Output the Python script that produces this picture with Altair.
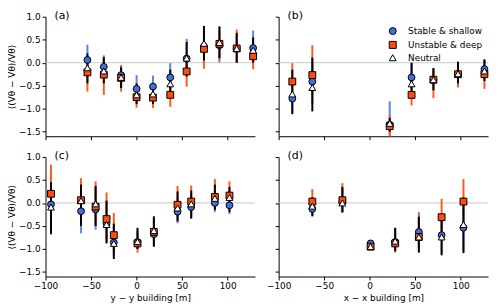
import altair as alt
import pandas as pd

conds = ["Stable & shallow", "Unstable & deep", "Neutral"]
panel_labels = ["(a)", "(b)", "(c)", "(d)"]

# ---- panel (a) ----
a_x = [-54, -36, -17, 0, 18, 37, 55, 74, 91, 110, 128]
a_st_val = [0.06, -0.09, -0.27, -0.57, -0.52, -0.32, 0.09, 0.35, 0.38, 0.31, 0.32]
a_st_lo = [-0.30, -0.35, -0.50, -0.85, -0.80, -0.60, -0.25, 0.00, 0.00, 0.00, 0.05]
a_st_hi = [0.39, 0.16, -0.05, -0.27, -0.28, -0.01, 0.52, 0.70, 0.78, 0.62, 0.70]
a_un_val = [-0.21, -0.26, -0.33, -0.75, -0.76, -0.70, -0.19, 0.30, 0.41, 0.31, 0.14]
a_un_lo = [-0.63, -0.70, -0.63, -0.98, -0.99, -0.96, -0.52, -0.13, 0.05, 0.00, -0.14]
a_un_hi = [0.10, 0.10, -0.06, -0.50, -0.50, -0.45, 0.10, 0.60, 0.70, 0.72, 0.45]
a_ne_val = [-0.11, -0.18, -0.32, -0.70, -0.68, -0.46, 0.10, 0.42, 0.44, 0.31, 0.27]
a_ne_lo = [-0.45, -0.45, -0.55, -0.90, -0.90, -0.75, -0.30, 0.05, 0.10, 0.00, 0.00]
a_ne_hi = [0.20, 0.12, -0.10, -0.45, -0.45, -0.15, 0.45, 0.80, 0.79, 0.65, 0.55]

# ---- panel (b) ----
b_x = [-85, -63, 22, 46, 70, 97, 126]
b_st_val = [-0.78, -0.41, -1.35, -0.32, -0.37, -0.25, -0.14]
b_st_lo = [-1.10, -0.90, -1.60, -0.60, -0.60, -0.45, -0.35]
b_st_hi = [-0.40, 0.00, -0.84, -0.01, -0.12, 0.02, 0.07]
b_un_val = [-0.41, -0.27, -1.38, -0.70, -0.37, -0.25, -0.25]
b_un_lo = [-0.80, -0.70, -1.60, -0.93, -0.77, -0.54, -0.57]
b_un_hi = [-0.01, 0.38, -1.15, -0.35, -0.12, 0.00, 0.05]
b_ne_val = [-0.68, -0.54, -1.32, -0.46, -0.37, -0.24, -0.18]
b_ne_lo = [-1.12, -1.06, -1.50, -0.65, -0.60, -0.45, -0.40]
b_ne_hi = [-0.15, 0.11, -1.20, 0.00, -0.12, 0.02, 0.07]

# ---- panel (c) ----
c_x = [-94, -61, -45, -33, -25, 1, 19, 45, 60, 86, 102]
c_st_val = [-0.03, -0.18, -0.14, -0.45, -0.86, -0.85, -0.68, -0.19, -0.09, 0.00, -0.05]
c_st_lo = [-0.68, -0.66, -0.58, -0.85, -1.15, -1.00, -0.95, -0.44, -0.32, -0.20, -0.24]
c_st_hi = [0.40, 0.30, 0.30, 0.00, -0.50, -0.60, -0.35, 0.10, 0.20, 0.30, 0.25]
c_un_val = [0.20, 0.06, -0.08, -0.35, -0.70, -0.88, -0.63, -0.04, 0.03, 0.13, 0.16]
c_un_lo = [-0.30, -0.40, -0.50, -0.80, -1.10, -1.08, -0.92, -0.35, -0.30, -0.10, -0.10]
c_un_hi = [0.83, 0.54, 0.47, 0.23, -0.22, -0.65, -0.32, 0.37, 0.38, 0.52, 0.47]
c_ne_val = [-0.09, 0.05, -0.02, -0.47, -0.88, -0.84, -0.60, -0.11, -0.02, 0.10, 0.12]
c_ne_lo = [-0.68, -0.50, -0.50, -0.88, -1.22, -1.00, -0.95, -0.40, -0.34, -0.15, -0.20]
c_ne_hi = [0.45, 0.40, 0.37, 0.05, -0.45, -0.54, -0.29, 0.25, 0.27, 0.40, 0.35]

# ---- panel (d) ----
d_x = [-63, -30, 1, 28, 54, 79, 103]
d_st_val = [-0.13, 0.02, -0.88, -0.85, -0.63, -0.70, -0.54]
d_st_lo = [-0.29, -0.20, -0.95, -1.05, -1.00, -1.10, -1.05]
d_st_hi = [0.10, 0.30, -0.82, -0.55, -0.20, -0.30, 0.00]
d_un_val = [0.03, 0.06, -0.95, -0.88, -0.74, -0.31, 0.03]
d_un_lo = [-0.20, -0.22, -1.00, -1.08, -1.05, -0.75, -0.50]
d_un_hi = [0.30, 0.43, -0.90, -0.60, -0.25, 0.09, 0.52]
d_ne_val = [-0.07, 0.00, -0.95, -0.83, -0.74, -0.74, -0.47]
d_ne_lo = [-0.29, -0.20, -1.00, -1.05, -1.08, -1.14, -1.09]
d_ne_hi = [0.12, 0.35, -0.90, -0.54, -0.30, -0.25, 0.12]

x_ticks = [-100, -50, 0, 50, 100]
y_ticks = [-1.5, -1.0, -0.5, 0.0, 0.5, 1.0]

panels = {
    "(a)": (a_x, [(a_st_val, a_st_lo, a_st_hi), (a_un_val, a_un_lo, a_un_hi), (a_ne_val, a_ne_lo, a_ne_hi)]),
    "(b)": (b_x, [(b_st_val, b_st_lo, b_st_hi), (b_un_val, b_un_lo, b_un_hi), (b_ne_val, b_ne_lo, b_ne_hi)]),
    "(c)": (c_x, [(c_st_val, c_st_lo, c_st_hi), (c_un_val, c_un_lo, c_un_hi), (c_ne_val, c_ne_lo, c_ne_hi)]),
    "(d)": (d_x, [(d_st_val, d_st_lo, d_st_hi), (d_un_val, d_un_lo, d_un_hi), (d_ne_val, d_ne_lo, d_ne_hi)]),
}

BLUE = "#3f6fdc"
ORANGE = "#ff4a10"
BAR_COLORS = ["#5585ee", "#ff5a1f", "black"]
FONT = "DejaVu Sans"

YTITLE = "⟨(Vθ − V̅θ)/V̅θ⟩"
XTITLE_L = "y − y building [m]"
XTITLE_R = "x − x building [m]"

W, H = 212, 121


def make_panel(label, show_xlab, show_ylab, xtitle, with_legend):
    xs, series = panels[label]
    rows = []
    for cond, (val, lo, hi) in zip(conds, series):
        for i, x in enumerate(xs):
            rows.append({"cond": cond, "x": x, "val": val[i], "lo": lo[i], "hi": hi[i]})
    df = pd.DataFrame(rows)

    xscale = alt.Scale(domain=[-100, 130], nice=False, zero=False)
    yscale = alt.Scale(domain=[-1.6, 1.0], nice=False, zero=False, clamp=True)
    xaxis = alt.Axis(values=x_ticks, labels=show_xlab, title=xtitle if show_xlab else None,
                     format="d", titlePadding=3)
    yaxis = alt.Axis(values=y_ticks, labels=show_ylab, title=YTITLE if show_ylab else None,
                     format=".1f", minExtent=26, maxExtent=26, titlePadding=3)

    layers = []
    zero = alt.Chart(pd.DataFrame({"z": [0.0]})).mark_rule(color="#c8c8c8", strokeWidth=1).encode(
        y=alt.Y("z:Q", scale=yscale, axis=yaxis)
    )
    layers.append(zero)
    for cond, col in zip(conds, BAR_COLORS):
        bars = alt.Chart(df).transform_filter(alt.datum.cond == cond).mark_rule(
            strokeWidth=2, color=col
        ).encode(
            x=alt.X("x:Q", scale=xscale, axis=xaxis),
            y=alt.Y("lo:Q", scale=yscale, axis=yaxis),
            y2="hi:Q",
        )
        layers.append(bars)

    if with_legend:
        leg = alt.Legend(title=None, orient="none", legendX=111, legendY=10, padding=0, labelFontSize=9,
                         labelFont=FONT, labelColor="black", symbolSize=50, rowPadding=1,
                         labelOffset=11, symbolStrokeWidth=1)
    else:
        leg = None
    pts = alt.Chart(df).mark_point(filled=True, size=48, strokeWidth=1, opacity=1).encode(
        x=alt.X("x:Q", scale=xscale, axis=xaxis),
        y=alt.Y("val:Q", scale=yscale, axis=yaxis),
        fill=alt.Fill("cond:N", scale=alt.Scale(domain=conds, range=[BLUE, ORANGE, "white"]), legend=leg),
        stroke=alt.Stroke("cond:N", scale=alt.Scale(domain=conds, range=["black", "black", "black"]),
                          legend=leg),
        shape=alt.Shape("cond:N", scale=alt.Scale(domain=conds, range=["circle", "square", "triangle-up"]),
                        legend=leg),
    )
    layers.append(pts)
    txt = alt.Chart(pd.DataFrame({"t": [label]})).mark_text(
        align="left", baseline="middle", fontSize=11, font=FONT, color="black"
    ).encode(text="t:N", x=alt.value(9), y=alt.value(-1))
    layers.append(txt)
    return alt.layer(*layers).properties(width=W, height=H)


pa = make_panel("(a)", False, True, XTITLE_L, False)
pb = make_panel("(b)", False, False, XTITLE_R, True)
pc = make_panel("(c)", True, True, XTITLE_L, False)
pd_ = make_panel("(d)", True, False, XTITLE_R, False)

chart = alt.concat(pa, pb, pc, pd_, columns=2, spacing={"row": 21, "column": 24}, bounds="flush").resolve_scale(
    fill="independent", shape="independent", stroke="independent"
).resolve_legend(fill="independent", shape="independent", stroke="independent").properties(
    padding={"left": 0, "top": 0, "right": 2, "bottom": 0}
).configure_view(stroke=None).configure_axis(
    domainColor="black", tickColor="black", labelColor="black", titleColor="black",
    labelFont=FONT, titleFont=FONT, labelFontSize=9, titleFontSize=9, titleFontWeight="normal",
    tickSize=3.5, grid=False, domainWidth=1, tickWidth=1, labelPadding=2, labelFlush=False,
)

chart.save("out.html", embed_options={"renderer": "svg", "actions": False})
